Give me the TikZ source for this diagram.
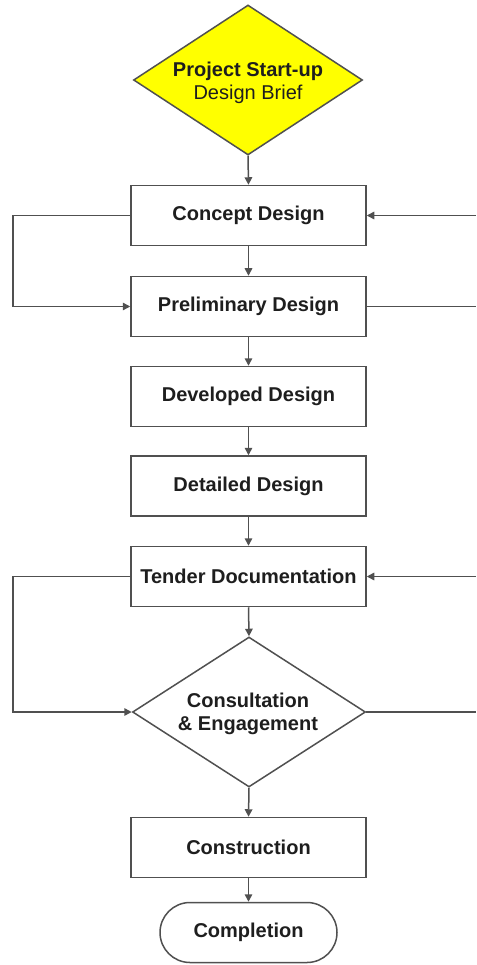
\documentclass[tikz,border=0pt]{standalone}
\usepackage{fontspec}
\setmainfont{Liberation Sans}
\usetikzlibrary{shapes.geometric,arrows.meta}
\definecolor{ln}{HTML}{505050}
\definecolor{tx}{HTML}{1E1E1E}
\definecolor{yel}{HTML}{FFFF00}
\tikzset{
  boxnode/.style={draw=ln, line width=1.5pt, fill=white, minimum width=235pt, minimum height=60pt, inner sep=0pt, font=\bfseries\fontsize{20}{24}\selectfont, text=tx},
  diamnode/.style={draw=ln, line width=1.5pt, diamond, inner sep=0pt},
  lbl/.style={align=center, text=tx, inner sep=0pt, font=\fontsize{20}{23}\selectfont},
  conn/.style={draw=ln, line width=1.5pt, -{Triangle[length=7.5pt,width=7.5pt]}},
  plain/.style={draw=ln, line width=1.5pt}
}
\begin{document}
\begin{tikzpicture}[x=1pt,y=-1pt]
\useasboundingbox (0,0) rectangle (476,965);
% nodes
\node[diamnode, fill=yel, minimum width=229pt, minimum height=150pt] (start) at (248,80) {};
\node[lbl] (starttxt) at (248,83) {\textbf{Project Start-up}\\Design Brief};
\node[boxnode] (concept) at (248.5,215.5) {Concept Design};
\node[boxnode] (prelim) at (248.5,306.5) {Preliminary Design};
\node[boxnode] (devel) at (248.5,396.5) {Developed Design};
\node[boxnode] (detail) at (248.5,486) {Detailed Design};
\node[boxnode] (tender) at (248.5,576.5) {Tender Documentation};
\node[diamnode, fill=white, minimum width=233pt, minimum height=150pt] (consult) at (249,712) {};
\node[lbl, font=\bfseries\fontsize{20}{23}\selectfont] (consulttxt) at (248,714) {Consultation\\\& Engagement};
\node[boxnode] (constr) at (248.5,847.5) {Construction};
\node[boxnode, minimum width=177pt, rounded corners=30pt] (compl) at (248.5,932.5) {Completion};
% coordinates
\coordinate (l1) at (13,215.5);
\coordinate (l2) at (13,576.5);
\coordinate (r1) at (476,215.5);
\coordinate (r2) at (476,306.5);
\coordinate (r3) at (476,576.5);
\coordinate (r4) at (476,712);
% main flow
\draw[conn] (start.south) -- (concept.north);
\draw[conn] (concept.south) -- (prelim.north);
\draw[conn] (prelim.south) -- (devel.north);
\draw[conn] (devel.south) -- (detail.north);
\draw[conn] (detail.south) -- (tender.north);
\draw[conn] (tender.south) -- (consult.north);
\draw[conn] (consult.south) -- (constr.north);
\draw[conn] (constr.south) -- (compl.north);
% loops
\draw[conn] (concept.west) -- (l1) |- (prelim.west);
\draw[conn] (tender.west) -- (l2) |- (consult.west);
\draw[conn] (r1) -- (concept.east);
\draw[plain] (prelim.east) -- (r2);
\draw[conn] (r3) -- (tender.east);
\draw[plain] (consult.east) -- (r4);
\end{tikzpicture}
\end{document}
